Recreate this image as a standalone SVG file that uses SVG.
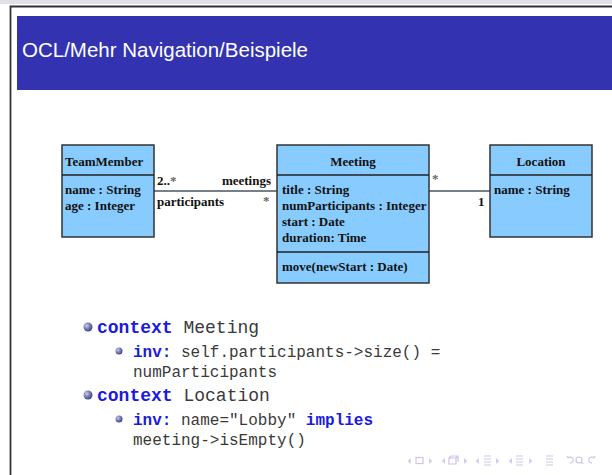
<svg xmlns="http://www.w3.org/2000/svg" width="612" height="475" viewBox="0 0 612 475">
<defs>
<radialGradient id="ball" cx="0.35" cy="0.35" r="0.7">
<stop offset="0" stop-color="#c8cbe6"/>
<stop offset="0.5" stop-color="#7a7fb8"/>
<stop offset="1" stop-color="#3c4080"/>
</radialGradient>
<style>
.box{fill:#88ccff;stroke:#333;stroke-width:1.5}
.div{stroke:#222;stroke-width:1.3}
.uml{font-family:"Liberation Serif",serif;font-weight:bold;font-size:13px;fill:#111}
.mult{font-family:"Liberation Serif",serif;font-weight:bold;font-size:13px;fill:#111}
.star{font-family:"Liberation Serif",serif;font-weight:bold;font-size:13px;fill:#666}
.conn{stroke:#4a5560;stroke-width:1.5;fill:none}
.m1{font-family:"Liberation Mono",monospace;font-size:18px;fill:#3a3a3a}
.m2{font-family:"Liberation Mono",monospace;font-size:16px;fill:#3a3a3a}
.kw{font-weight:bold;fill:#1a1ae0}
.nav{fill:#d0d0ec;stroke:none}
.navs{fill:none;stroke:#c8c8ea;stroke-width:1.2}
</style>
</defs>
<rect x="0" y="0" width="612" height="475" fill="#ffffff"/>
<rect x="0" y="0" width="612" height="4" fill="#dfe1e6"/>
<path d="M10.5 475 V6.5 H612" fill="none" stroke="#333" stroke-width="1.8"/>
<rect x="17" y="16" width="595" height="74" fill="#3333b2"/>
<text x="22" y="57" font-family="Liberation Sans, Arial, sans-serif" font-size="20.5" fill="#ffffff">OCL/Mehr Navigation/Beispiele</text>

<g id="connectors">
<line class="conn" x1="154" y1="191" x2="277" y2="191"/>
<line class="conn" x1="429" y1="191" x2="490" y2="191"/>
<text class="mult" x="157" y="185">2..<tspan class="star">*</tspan></text>
<text class="mult" x="271" y="185" text-anchor="end">meetings</text>
<text class="mult" x="157" y="206">participants</text>
<text class="star" x="263" y="205">*</text>
<text class="star" x="432" y="183">*</text>
<text class="mult" x="478" y="206">1</text>
</g>

<g id="TeamMember">
<rect class="box" x="62" y="145" width="92" height="92"/>
<line class="div" x1="62" y1="175" x2="154" y2="175"/>
<text class="uml" x="65" y="166">TeamMember</text>
<text class="uml" x="65" y="194">name : String</text>
<text class="uml" x="65" y="210">age : Integer</text>
</g>

<g id="Meeting">
<rect class="box" x="277" y="145" width="152" height="138"/>
<line class="div" x1="277" y1="175" x2="429" y2="175"/>
<line class="div" x1="277" y1="252" x2="429" y2="252"/>
<text class="uml" x="353" y="166" text-anchor="middle">Meeting</text>
<text class="uml" x="282" y="194">title : String</text>
<text class="uml" x="282" y="210">numParticipants : Integer</text>
<text class="uml" x="282" y="226">start : Date</text>
<text class="uml" x="282" y="242">duration: Time</text>
<text class="uml" x="282" y="271">move(newStart : Date)</text>
</g>

<g id="Location">
<rect class="box" x="490" y="145" width="102" height="92"/>
<line class="div" x1="490" y1="175" x2="592" y2="175"/>
<text class="uml" x="541" y="166" text-anchor="middle">Location</text>
<text class="uml" x="494" y="194">name : String</text>
</g>

<g id="text">
<circle cx="88" cy="327" r="4.5" fill="url(#ball)"/>
<text class="m1" x="97" y="333"><tspan class="kw">context</tspan> Meeting</text>
<circle cx="119" cy="351" r="3.5" fill="url(#ball)"/>
<text class="m2" x="133" y="357"><tspan class="kw">inv:</tspan> self.participants-&gt;size() =</text>
<text class="m2" x="133" y="377">numParticipants</text>
<circle cx="88" cy="395" r="4.5" fill="url(#ball)"/>
<text class="m1" x="97" y="401"><tspan class="kw">context</tspan> Location</text>
<circle cx="119" cy="419" r="3.5" fill="url(#ball)"/>
<text class="m2" x="133" y="425"><tspan class="kw">inv:</tspan> name="Lobby" <tspan class="kw">implies</tspan></text>
<text class="m2" x="133" y="445">meeting-&gt;isEmpty()</text>
</g>

<g id="navigation">
<path class="nav" d="M411 458 L407.5 461 L411 464 Z"/>
<rect class="navs" x="416" y="457.5" width="7" height="6"/>
<path class="nav" d="M429 458 L432.5 461 L429 464 Z"/>
<path class="nav" d="M445 458 L441.5 461 L445 464 Z"/>
<path class="navs" d="M449 458 h7 v6 h-7 z M451 456 h7 v6 M449 458 l2 -2 M456 458 l2 -2"/>
<path class="nav" d="M464 458 L467.5 461 L464 464 Z"/>
<path class="nav" d="M479 458 L475.5 461 L479 464 Z"/>
<path class="navs" d="M484 456 h7 M484 459 h7 M484 462 h7 M484 465 h7"/>
<path class="nav" d="M496 458 L499.5 461 L496 464 Z"/>
<path class="nav" d="M512 458 L508.5 461 L512 464 Z"/>
<path class="navs" d="M516 456 h7 M516 459 h7 M516 462 h7 M516 465 h7"/>
<path class="nav" d="M529 458 L532.5 461 L529 464 Z"/>
<path class="navs" d="M546 456 h7 M546 459 h7 M546 462 h7 M546 465 h7"/>
<path class="navs" d="M570 463 a3 3 0 1 0 -2 -5 M567 456 l1 2 l2 -1"/>
<circle class="navs" cx="579" cy="460" r="3"/>
<path class="navs" d="M581 462 l2 2"/>
<path class="navs" d="M592 463 a3 3 0 1 1 2 -5 M595 456 l-1 2 l-2 -1"/>
</g>
</svg>
